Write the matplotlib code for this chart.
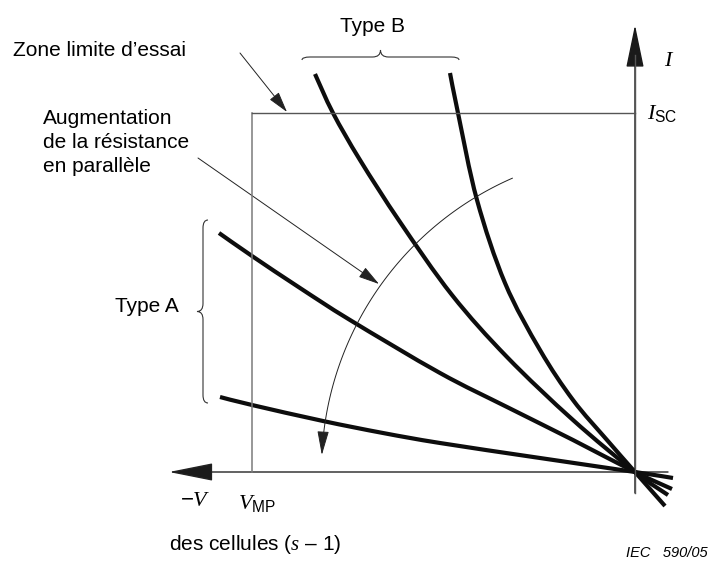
import numpy as np
import matplotlib
matplotlib.use("Agg")
import matplotlib.pyplot as plt
from matplotlib.path import Path
from matplotlib.patches import PathPatch, FancyArrowPatch

plt.rcParams['font.family'] = ['Liberation Sans', 'DejaVu Sans']
plt.rcParams['mathtext.fontset'] = 'custom'
plt.rcParams['mathtext.it'] = 'Liberation Serif:italic'
plt.rcParams['mathtext.rm'] = 'Liberation Sans'
plt.rcParams['mathtext.sf'] = 'Liberation Sans'

# I-V curves (x, y in picture units, y grows downwards)
type_a_low_x = [220, 252, 323, 383, 440, 540, 635, 673]
type_a_low_y = [397, 405, 421, 433, 443, 458, 472, 478]
type_a_high_x = [219, 252, 300, 350, 440, 507, 573, 635, 672]
type_a_high_y = [233, 256, 288, 320, 373, 407, 440, 472, 489]
type_b_left_x = [315, 333, 360, 400, 452, 507, 573, 635, 668]
type_b_left_y = [74, 113, 160, 222, 295, 357, 420, 472, 495]
type_b_right_x = [450, 458, 477, 505, 540, 573, 607, 635, 665]
type_b_right_y = [73, 113, 200, 283, 350, 400, 440, 472, 506]

# axes and test zone
origin = (635, 472)
i_axis_ends = (493, 25)      # y of bottom / arrow tip
v_axis_ends = (668, 169)     # x of right end / arrow tip
v_mp = 252
i_sc = 113

# increasing shunt resistance arc
arc_center = (640, 470)
arc_radius = 318.5
arc_angles = (113.6, 177.3)

# pointer lines
zone_ptr = [(240, 53), (287, 112)]
aug_ptr = [(198, 158), (379, 284)]

# braces: start, end, direction of tip
brace_a = [(208, 220), (208, 403), (-1, 0)]
brace_b = [(302, 60), (459, 60), (0, -1)]


def smooth_path(xs, ys):
    pts = np.column_stack([xs, ys]).astype(float)
    n = len(pts)
    verts = [pts[0]]
    codes = [Path.MOVETO]
    for i in range(n - 1):
        p0 = pts[i - 1] if i > 0 else pts[i]
        p1, p2 = pts[i], pts[i + 1]
        p3 = pts[i + 2] if i + 2 < n else pts[i + 1]
        verts += [p1 + (p2 - p0) / 6, p2 - (p3 - p1) / 6, p2]
        codes += [Path.CURVE4] * 3
    return Path(verts, codes)


def brace(p0, p1, nrm, depth, tip, r=8):
    p0 = np.array(p0, float)
    p1 = np.array(p1, float)
    L = np.hypot(*(p1 - p0))
    u = (p1 - p0) / L
    nv = np.array(nrm, float)
    P = lambda a, b: p0 + a * u + b * nv
    h = L / 2
    verts = [P(0, 0), P(0, depth), P(r, depth), P(h - r, depth), P(h, depth),
             P(h, depth + tip), P(h, depth), P(h + r, depth), P(L - r, depth),
             P(L, depth), P(L, 0)]
    codes = [Path.MOVETO, Path.CURVE3, Path.CURVE3, Path.LINETO, Path.CURVE3,
             Path.CURVE3, Path.CURVE3, Path.CURVE3, Path.LINETO, Path.CURVE3,
             Path.CURVE3]
    return Path(verts, codes)


fig = plt.figure(figsize=(7.11, 5.68), dpi=100)
ax = fig.add_axes([0, 0, 1, 1])
ax.set_xlim(0, 711)
ax.set_ylim(568, 0)
ax.axis('off')

# test zone box
ax.plot([v_mp, v_mp], [origin[1], i_sc], color='#7a7a7a', lw=1.1)
ax.plot([v_mp, origin[0]], [i_sc, i_sc], color='#555555', lw=1.0)

# axes with arrows
ax.add_patch(FancyArrowPatch((origin[0], i_axis_ends[0]), (origin[0], i_axis_ends[1]),
                             arrowstyle='-|>,head_length=27,head_width=5.6',
                             mutation_scale=1, color='#555555', fc='#1a1a1a', ec='#1a1a1a',
                             lw=1.0, shrinkA=0, shrinkB=0))
ax.plot([origin[0], origin[0]], [i_axis_ends[0], i_axis_ends[1] + 30], color='#555555', lw=1.0)
ax.add_patch(FancyArrowPatch((v_axis_ends[0], origin[1]), (v_axis_ends[1], origin[1]),
                             arrowstyle='-|>,head_length=28,head_width=5.6',
                             mutation_scale=1, color='#222222', fc='#1a1a1a', lw=1.0,
                             shrinkA=0, shrinkB=0))

# curves
for xs, ys in [(type_a_low_x, type_a_low_y), (type_a_high_x, type_a_high_y),
               (type_b_left_x, type_b_left_y), (type_b_right_x, type_b_right_y)]:
    ax.add_patch(PathPatch(smooth_path(xs, ys), fill=False, lw=3.0,
                           color='#0d0d0d', capstyle='butt'))

# arc arrow
th = np.radians(np.linspace(arc_angles[0], arc_angles[1], 80))
arc_pts = np.column_stack([arc_center[0] + arc_radius * np.cos(th),
                           arc_center[1] - arc_radius * np.sin(th)])
ax.add_patch(FancyArrowPatch(path=Path(arc_pts),
                             arrowstyle='-|>,head_length=15,head_width=3.6',
                             mutation_scale=1, color='#222222', lw=0.7))

# pointers
for a, b in [zone_ptr, aug_ptr]:
    ax.add_patch(FancyArrowPatch(a, b, arrowstyle='-|>,head_length=13,head_width=3.6',
                                 mutation_scale=1, color='#222222', lw=0.7,
                                 shrinkA=0, shrinkB=0))

# braces
ax.add_patch(PathPatch(brace(*brace_a, depth=5, tip=6), fill=False, lw=0.8, color='#333333'))
ax.add_patch(PathPatch(brace(*brace_b, depth=3, tip=7), fill=False, lw=0.8, color='#333333'))

fs = 15
ax.text(13, 50, 'Zone limite d\u2019essai', fontsize=fs, va='center', ha='left')
ax.text(43, 109, 'Augmentation\nde la r\u00e9sistance\nen parall\u00e8le', fontsize=fs,
        va='top', ha='left', linespacing=1.33)
ax.text(147, 307, 'Type A', fontsize=fs, va='center', ha='center')
ax.text(372, 26, 'Type B', fontsize=fs, va='center', ha='center')
ax.text(664, 61, '$I$', fontsize=16, va='center', ha='left')
ax.text(647, 113, '$I_{\\mathrm{SC}}$', fontsize=16, va='center', ha='left')
ax.text(180, 500, '$-V$', fontsize=16, va='center', ha='left')
ax.text(238, 503, '$V_{\\mathrm{MP}}$', fontsize=16, va='center', ha='left')
ax.text(169, 545, 'des cellules ($s$ \u2013 1)', fontsize=fs, va='center', ha='left')
ax.text(708, 553, 'IEC   590/05', fontsize=10.5, style='italic', va='center', ha='right')

fig.savefig('out.png', dpi=100)
